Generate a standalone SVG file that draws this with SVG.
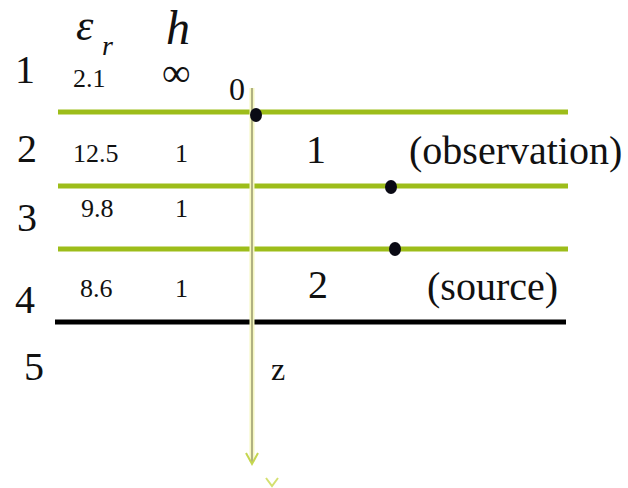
<svg xmlns="http://www.w3.org/2000/svg" width="628" height="488" viewBox="0 0 628 488">
<style>
.t{font-family:"Liberation Serif","Times New Roman",serif;fill:#111}
.big{font-size:40px}
.sm{font-size:26px}
.g{stroke:#9dbd1a;stroke-width:5}
.d{fill:#0a0a14}
</style>
<defs>
<marker id="ah" markerWidth="16" markerHeight="16" refX="12" refY="8" orient="auto" markerUnits="userSpaceOnUse">
<path d="M1,2 L12,8 L1,14" fill="none" stroke="#c5d650" stroke-width="2"/>
</marker>
</defs>
<rect width="628" height="488" fill="#fff"/>
<g id="connectors">
<line class="g" x1="58" y1="112" x2="568" y2="112"/>
<line class="g" x1="58" y1="186" x2="568" y2="186"/>
<line class="g" x1="58" y1="249" x2="568" y2="249"/>
<line x1="55" y1="322" x2="566" y2="322" stroke="#000" stroke-width="5"/>
<line x1="252" y1="88" x2="252" y2="462" stroke="#f6f8c0" stroke-width="5"/>
<line x1="252" y1="88" x2="252" y2="464" stroke="#8a8a60" stroke-width="1.3" marker-end="url(#ah)"/>
<path d="M266,478 L272,486 L278,478" fill="none" stroke="#d4e070" stroke-width="2"/>
</g>
<g id="dots">
<ellipse class="d" cx="256" cy="115" rx="6" ry="7"/>
<ellipse class="d" cx="391" cy="187" rx="6" ry="7"/>
<ellipse class="d" cx="395" cy="249" rx="6" ry="7"/>
</g>
<g id="labels">
<text class="t" x="76" y="40" font-size="44" font-style="italic">ε</text>
<text class="t" x="102" y="55" font-size="28" font-style="italic">r</text>
<text class="t" x="166" y="44" font-size="48" font-style="italic">h</text>
<text class="t big" x="15" y="83">1</text>
<text class="t big" x="17" y="162">2</text>
<text class="t big" x="17" y="231">3</text>
<text class="t big" x="15" y="313">4</text>
<text class="t big" x="24" y="380">5</text>
<text class="t sm" x="73" y="87">2.1</text>
<text class="t" x="162" y="86" font-size="40">∞</text>
<text class="t" x="229" y="100" font-size="32">0</text>
<text class="t sm" x="73" y="162">12.5</text>
<text class="t sm" x="175" y="162">1</text>
<text class="t sm" x="81" y="217">9.8</text>
<text class="t sm" x="175" y="217">1</text>
<text class="t sm" x="80" y="297">8.6</text>
<text class="t sm" x="175" y="297">1</text>
<text class="t big" x="306" y="163">1</text>
<text class="t big" x="409" y="164">(observation)</text>
<text class="t big" x="308" y="298">2</text>
<text class="t big" x="427" y="300">(source)</text>
<text class="t" x="271" y="380" font-size="32">z</text>
</g>
</svg>
